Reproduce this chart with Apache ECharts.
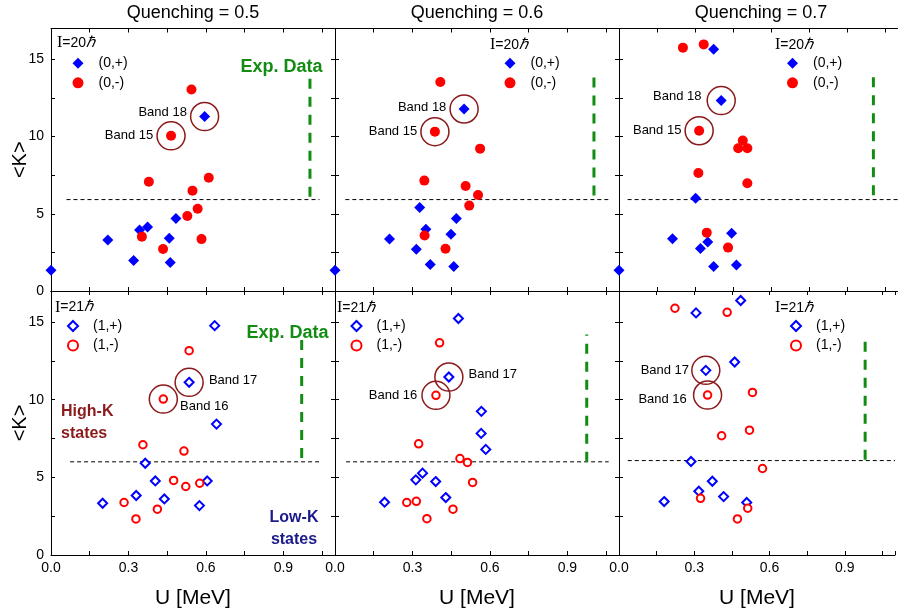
<!DOCTYPE html>
<html><head><meta charset="utf-8">
<script src="https://cdn.jsdelivr.net/npm/echarts@6/dist/echarts.min.js"></script>
<style>html,body{margin:0;padding:0;background:#fff}#c{width:898px;height:614px}</style>
</head><body><div id="c"></div>
<script>
// ---------------- data ----------------
const columnTitles = ['Quenching = 0.5', 'Quenching = 0.6', 'Quenching = 0.7'];
const xTickValues = [0, 0.3, 0.6, 0.9];
const xTickLabels = ['0.0', '0.3', '0.6', '0.9'];
const yTickValues = [0, 5, 10, 15];
const yTickLabels = ['0', '5', '10', '15'];
const seriesNamesTop = ['(0,+)', '(0,-)'];
const seriesNamesBottom = ['(1,+)', '(1,-)'];
const spinHeaders = ['20', '20', '20', '21', '21', '21'];

// I = 20 hbar, (0,+) and (0,-)   [U (MeV), <K>]
const i20_q05_plus = [[0,1.35],[0.22,3.3],[0.32,1.97],[0.343,3.95],[0.374,4.15],[0.458,3.41],[0.462,1.84],[0.484,4.69],[0.595,11.3]];
const i20_q05_minus = [[0.544,13.05],[0.465,10.05],[0.379,7.08],[0.611,7.34],[0.548,6.5],[0.528,4.86],[0.568,5.33],[0.352,3.52],[0.434,2.72],[0.583,3.36]];
const i20_q06_plus = [[0,1.35],[0.211,3.36],[0.315,2.7],[0.328,5.4],[0.352,4.0],[0.369,1.71],[0.449,3.68],[0.46,1.58],[0.47,4.69],[0.5,11.79]];
const i20_q06_minus = [[0.408,13.53],[0.387,10.32],[0.562,9.22],[0.346,7.15],[0.506,6.8],[0.554,6.22],[0.52,5.53],[0.347,3.6],[0.428,2.74]];
const i20_q07_plus = [[0,1.35],[0.373,15.65],[0.403,12.33],[0.302,6.0],[0.211,3.39],[0.321,2.76],[0.35,3.17],[0.444,3.74],[0.373,1.58],[0.463,1.69]];
const i20_q07_minus = [[0.252,15.76],[0.334,15.97],[0.316,10.38],[0.488,9.74],[0.47,9.24],[0.506,9.24],[0.313,7.64],[0.506,6.98],[0.346,3.78],[0.43,2.81]];
// I = 21 hbar, (1,+) and (1,-)
const i21_q05_plus = [[0.634,14.77],[0.535,11.12],[0.641,8.43],[0.365,5.91],[0.404,4.77],[0.605,4.77],[0.33,3.83],[0.439,3.61],[0.2,3.33],[0.575,3.18]];
const i21_q05_minus = [[0.535,13.16],[0.435,10.04],[0.356,7.1],[0.515,6.69],[0.475,4.8],[0.522,4.41],[0.576,4.62],[0.283,3.38],[0.412,2.95],[0.329,2.32]];
const i21_q06_plus = [[0.478,15.23],[0.441,11.46],[0.567,9.25],[0.566,7.83],[0.584,6.8],[0.339,5.27],[0.313,4.84],[0.39,4.73],[0.429,3.7],[0.192,3.4]];
const i21_q06_minus = [[0.405,13.66],[0.391,10.28],[0.324,7.16],[0.484,6.21],[0.513,5.96],[0.533,4.67],[0.278,3.38],[0.315,3.46],[0.457,2.95],[0.356,2.34]];
const i21_q07_plus = [[0.485,16.39],[0.307,15.59],[0.461,12.43],[0.346,11.89],[0.287,6.02],[0.372,4.75],[0.318,4.11],[0.417,3.76],[0.18,3.44],[0.509,3.38]];
const i21_q07_minus = [[0.223,15.89],[0.431,15.63],[0.353,10.3],[0.532,10.47],[0.52,8.04],[0.409,7.68],[0.572,5.57],[0.325,3.65],[0.513,3.01],[0.472,2.32]];

// highlighted bands [U, <K>, name]
const bands_i20_q05 = [[0.595,11.3,'Band 18'],[0.465,10.05,'Band 15']];
const bands_i20_q06 = [[0.5,11.79,'Band 18'],[0.387,10.32,'Band 15']];
const bands_i20_q07 = [[0.403,12.33,'Band 18'],[0.316,10.38,'Band 15']];
const bands_i21_q05 = [[0.535,11.12,'Band 17'],[0.435,10.04,'Band 16']];
const bands_i21_q06 = [[0.441,11.46,'Band 17'],[0.391,10.28,'Band 16']];
const bands_i21_q07 = [[0.346,11.89,'Band 17'],[0.353,10.3,'Band 16']];

// low/high-K separation line: <K> value and U span
const thresholdK = [5.92, 5.92, 5.92, 6.0, 6.0, 6.08];
const thresholdU = [[0.06,1.04],[0.04,1.06],[0.034,1.1],[0.074,1.05],[0.043,1.06],[0.035,1.1]];
// experimental data marker: U position and <K> span
const expU = [1.003, 1.003, 1.003, 0.971, 0.975, 0.981];
const expK = [[6.1,14.2],[6.19,14.26],[6.2,14.3],[6.24,14.2],[6.0,14.2],[6.13,14.2]];

// ---------------- layout / style ----------------
const FONT = 'Liberation Sans, Arial, sans-serif';
const gridLeft = [51, 335, 619];
const gridW = 284;
const rowTop = [28.5, 291];
const rowH = [262.5, 264];
const plusSets = [i20_q05_plus, i20_q06_plus, i20_q07_plus, i21_q05_plus, i21_q06_plus, i21_q07_plus];
const minusSets = [i20_q05_minus, i20_q06_minus, i20_q07_minus, i21_q05_minus, i21_q06_minus, i21_q07_minus];
const bandSets = [bands_i20_q05, bands_i20_q06, bands_i20_q07, bands_i21_q05, bands_i21_q06, bands_i21_q07];
const bandLabelStyle = [
  [{position:'left',distance:3,offset:[0,-4]},{position:'left',distance:3}],
  [{position:'left',distance:3,offset:[0,-2]},{position:'left',distance:3}],
  [{position:'left',distance:5,offset:[0,-4]},{position:'left',distance:3}],
  [{position:'right',distance:5,offset:[0,-2]},{position:'right',distance:2,offset:[0,7]}],
  [{position:'right',distance:5,offset:[0,-3]},{position:'left',distance:4}],
  [{position:'left',distance:2},{position:'left',distance:6,offset:[0,4]}]
];
const legendPos = [[72.5,55.3],[504.5,55.3],[787,55.3],[67,318],[350.5,318],[790,318]];
const headerPos = [[57,43],[490,45],[775,45],[55,307.5],[337,308],[775,308]];

const grids = [], xAxes = [], yAxes = [], series = [], legends = [];
function fmtFrom(vals, labels) {
  return function (v) {
    for (let i = 0; i < vals.length; i++) if (Math.abs(vals[i] - v) < 1e-6) return labels[i];
    return '';
  };
}
for (let g = 0; g < 6; g++) {
  const row = g < 3 ? 0 : 1, col = g % 3;
  grids.push({left: gridLeft[col], top: rowTop[row], width: gridW, height: rowH[row], containLabel: false});
  const axLine = {show: true, onZero: false, lineStyle: {color: '#000', width: 1}};
  const tick = {show: true, inside: true, length: 4, lineStyle: {color: '#000', width: 1}};
  const xb = {type: 'value', gridIndex: g, min: 0, max: 1.1, interval: 0.15, position: 'bottom',
    axisLine: axLine, axisTick: tick, splitLine: {show: false},
    axisLabel: {show: row === 1, margin: 6, fontSize: 14, color: '#000', fontFamily: FONT,
      formatter: fmtFrom(xTickValues, xTickLabels)}};
  if (row === 1) {
    xb.name = 'U [MeV]'; xb.nameLocation = 'middle'; xb.nameGap = 33;
    xb.nameTextStyle = {fontSize: 21, color: '#000', fontFamily: FONT};
  }
  const xt = {type: 'value', gridIndex: g, min: 0, max: 1.1, interval: 0.15, position: 'top',
    axisLine: axLine, axisTick: tick, splitLine: {show: false}, axisLabel: {show: false}};
  xAxes.push(xb, xt);
  const yl = {type: 'value', gridIndex: g, min: 0, max: 17, interval: 2.5, position: 'left',
    axisLine: axLine, axisTick: tick, splitLine: {show: false},
    axisLabel: {show: col === 0, margin: 7, fontSize: 14, color: '#000', fontFamily: FONT,
      formatter: fmtFrom(yTickValues, yTickLabels)}};
  if (col === 0) {
    yl.name = '<K>'; yl.nameLocation = 'middle'; yl.nameGap = 21; yl.nameMoveOverlap = false;
    yl.nameTextStyle = {fontSize: 20, color: '#000', fontFamily: FONT};
  }
  const yr = {type: 'value', gridIndex: g, min: 0, max: 17, interval: 2.5, position: 'right',
    axisLine: {show: col !== 2, onZero: false, lineStyle: {color: '#000', width: 1}},
    axisTick: col !== 2 ? tick : {show: false}, splitLine: {show: false}, axisLabel: {show: false}};
  yAxes.push(yl, yr);

  const names = row === 0 ? seriesNamesTop : seriesNamesBottom;
  const filled = row === 0;
  const ax = {xAxisIndex: 2 * g, yAxisIndex: 2 * g};
  // threshold line
  series.push(Object.assign({type: 'line', silent: true, symbol: 'none', clip: true, z: 1,
    data: [[thresholdU[g][0], thresholdK[g]], [thresholdU[g][1], thresholdK[g]]],
    lineStyle: {color: '#000', width: 1, type: [4, 3]}}, ax));
  // experimental data marker
  series.push(Object.assign({type: 'line', silent: true, symbol: 'none', clip: true, z: 1,
    data: [[expU[g], expK[g][0]], [expU[g], expK[g][1]]],
    lineStyle: {color: '#128c12', width: 3, type: [10, 8]}}, ax));
  // band rings
  series.push(Object.assign({type: 'scatter', silent: true, symbol: 'circle', symbolSize: 28, clip: true, z: 2,
    itemStyle: {color: 'rgba(0,0,0,0)', borderColor: '#8b1a1a', borderWidth: 1.5, opacity: 1},
    label: {show: true, formatter: '{b}', color: '#000', fontSize: 13, fontFamily: FONT},
    data: bandSets[g].map((b, i) => ({value: [b[0], b[1]], name: b[2], label: bandLabelStyle[g][i]}))}, ax));
  // plus parity
  series.push(Object.assign({type: 'scatter', name: names[0], symbol: 'diamond', clip: true, z: 3,
    symbolSize: filled ? 11 : 9,
    itemStyle: filled ? {color: '#0000ff', opacity: 1} : {color: '#ffffff', borderColor: '#0000ff', borderWidth: 2, opacity: 1},
    data: plusSets[g]}, ax));
  // minus parity
  series.push(Object.assign({type: 'scatter', name: names[1], symbol: 'circle', clip: true, z: 3,
    symbolSize: filled ? 10 : 7.5,
    itemStyle: filled ? {color: '#ff0000', opacity: 1} : {color: '#ffffff', borderColor: '#ff0000', borderWidth: 2, opacity: 1},
    data: minusSets[g]}, ax));

  legends.push({orient: 'vertical', left: legendPos[g][0], top: legendPos[g][1], padding: 0,
    itemGap: 3.5, itemWidth: filled ? 11 : 10, itemHeight: filled ? 11 : 10, selectedMode: false,
    textStyle: {fontSize: 14, color: '#000', fontFamily: FONT, lineHeight: 16, padding: [0, 0, 0, 10]},
    data: [{name: names[0], icon: 'diamond'}, {name: names[1], icon: 'circle'}]});
}

const graphic = [];
columnTitles.forEach((t, i) => graphic.push({type: 'text', x: gridLeft[i] + gridW / 2, y: 13,
  style: {text: t, fill: '#000', font: '18px ' + FONT, align: 'center', verticalAlign: 'middle'}}));
headerPos.forEach((p, i) => graphic.push({type: 'text', x: p[0], y: p[1],
  style: {text: '{s|I}=' + spinHeaders[i] + '{h|ℏ}', fill: '#000', font: '14px ' + FONT,
    align: 'left', verticalAlign: 'middle',
    rich: {s: {fontFamily: 'Liberation Serif, serif', fontSize: 16, fill: '#000'},
           h: {fontFamily: 'Liberation Serif, serif', fontStyle: 'italic', fontSize: 15, fill: '#000'}}}}));
[[281.5, 66.7], [287.5, 332.7]].forEach(p => graphic.push({type: 'text', x: p[0], y: p[1],
  style: {text: 'Exp. Data', fill: '#128c12', font: 'bold 18px ' + FONT, align: 'center', verticalAlign: 'middle'}}));
graphic.push({type: 'text', x: 61, y: 401,
  style: {text: 'High-K\nstates', fill: '#8b1a1a', font: 'bold 16px ' + FONT, lineHeight: 22, align: 'left', verticalAlign: 'top'}});
graphic.push({type: 'text', x: 294, y: 507,
  style: {text: 'Low-K\nstates', fill: '#1a1a8b', font: 'bold 16px ' + FONT, lineHeight: 22, align: 'center', verticalAlign: 'top'}});

const chart = echarts.init(document.getElementById('c'), null, {renderer: 'canvas'});
chart.setOption({
  backgroundColor: '#fff',
  animation: false,
  grid: grids, xAxis: xAxes, yAxis: yAxes, series: series, legend: legends, graphic: graphic
});
</script></body></html>
